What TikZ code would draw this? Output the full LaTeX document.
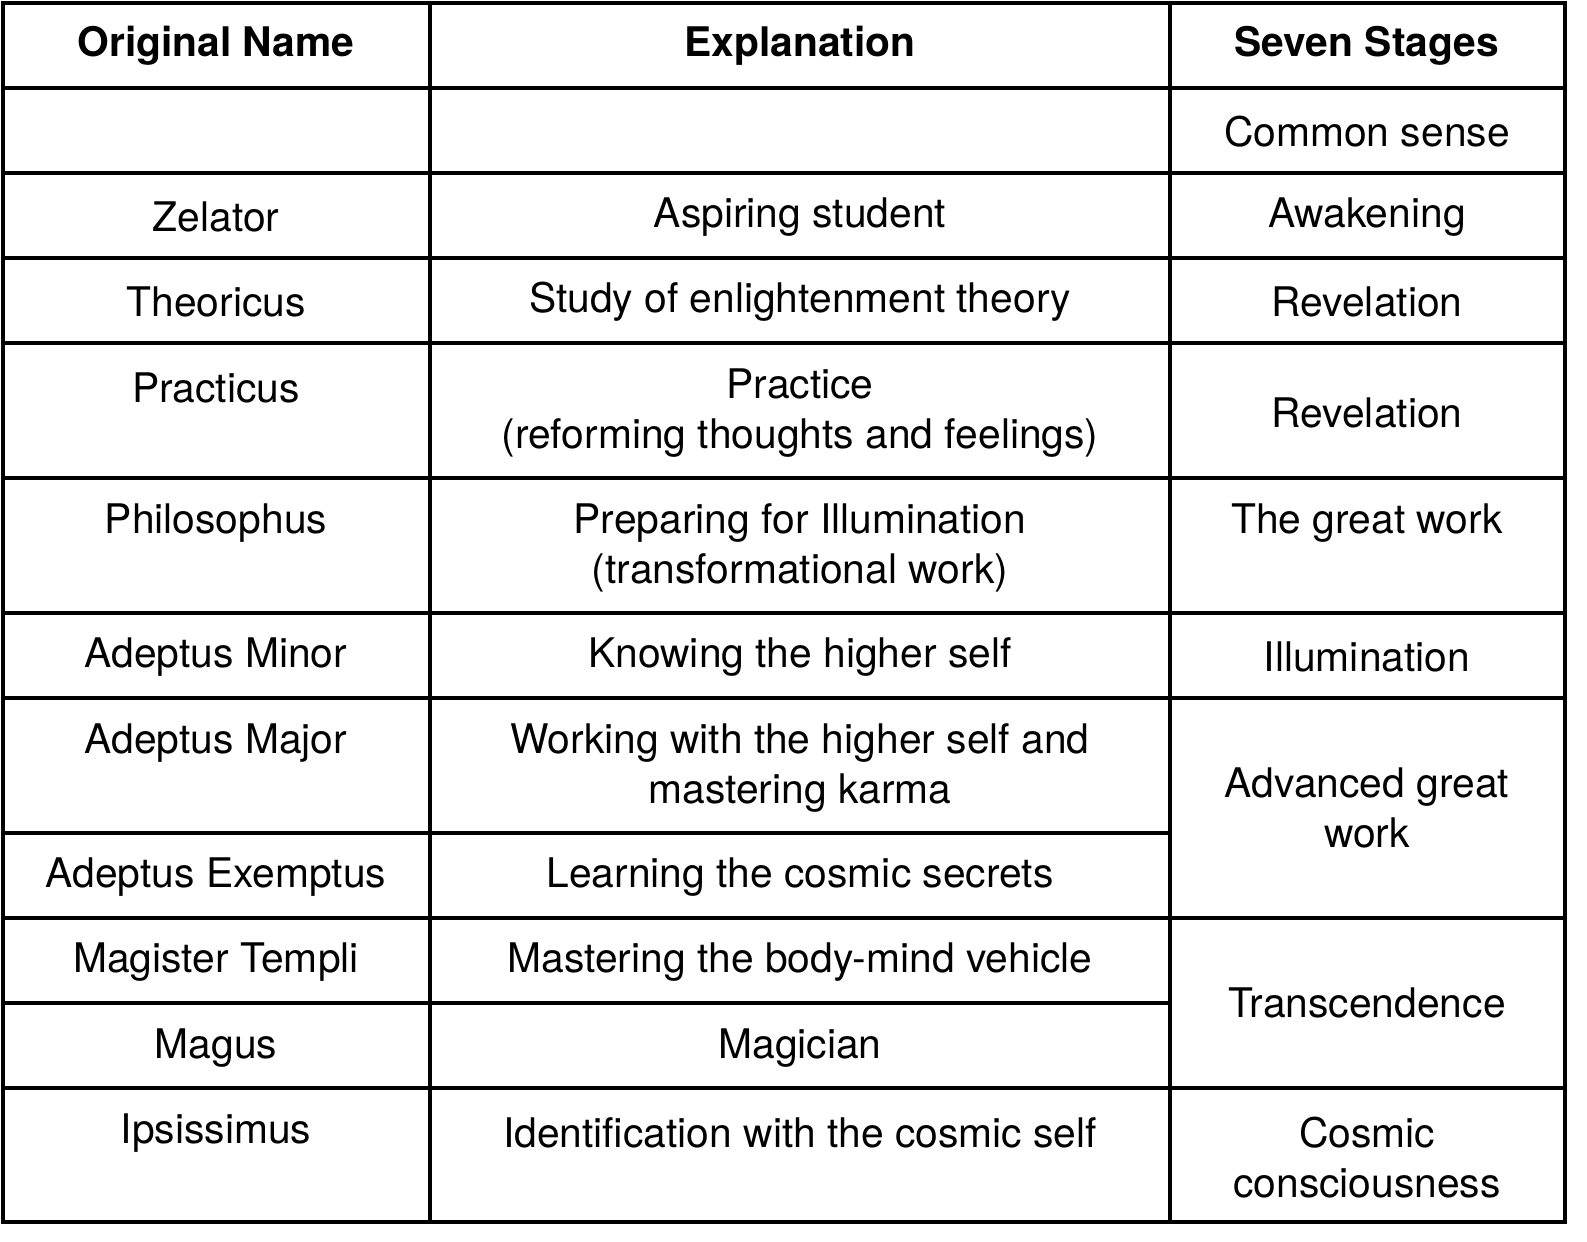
\documentclass[tikz,border=0pt]{standalone}
\usepackage{fontspec}
\setmainfont{TeX Gyre Heros}
\tikzset{
  cell/.style={font=\fontsize{11.6}{14.2}\selectfont, align=center, inner sep=0pt},
  head/.style={cell, font=\fontsize{11.6}{14.2}\selectfont\bfseries},
  grid/.style={line width=0.9pt}
}
\begin{document}
\begin{tikzpicture}[x=0.01cm,y=-0.01cm]
  \useasboundingbox (0,0) rectangle (1587,1241);
  % outer frame and columns
  \draw[grid] (3,3) rectangle (1565,1222);
  \draw[grid] (430,3) -- (430,1222);
  \draw[grid] (1170,3) -- (1170,1222);
  % rows
  \foreach \y in {88,173,258,343,478,613,698,918,1088}
    \draw[grid] (3,\y) -- (1565,\y);
  \draw[grid] (3,833) -- (1170,833);
  \draw[grid] (3,1003) -- (1170,1003);

  % header
  \node[head] (hName) at (216,46) {Original Name};
  \node[head] (hExpl) at (800,46) {Explanation};
  \node[head] (hStage) at (1367,46) {Seven Stages};

  % column 1
  \node[cell] (n1) at (216,217) {Zelator};
  \node[cell] (n2) at (216,302) {Theoricus};
  \node[cell] (n3) at (216,388) {Practicus};
  \node[cell] (n4) at (216,523) {Philosophus};
  \node[cell] (n5) at (216,657) {Adeptus Minor};
  \node[cell] (n6) at (216,743) {Adeptus Major};
  \node[cell] (n7) at (216,877) {Adeptus Exemptus};
  \node[cell] (n8) at (216,962) {Magister Templi};
  \node[cell] (n9) at (216,1048) {Magus};
  \node[cell] (n10) at (216,1133) {Ipsissimus};

  % column 2
  \node[cell] (e1) at (800,217) {Aspiring student};
  \node[cell] (e2) at (800,302) {Study of enlightenment theory};
  \node[cell] (e3) at (800,413) {Practice\\(reforming thoughts and feelings)};
  \node[cell] (e4) at (800,548) {Preparing for Illumination\\(transformational work)};
  \node[cell] (e5) at (800,657) {Knowing the higher self};
  \node[cell] (e6) at (800,768) {Working with the higher self and\\mastering karma};
  \node[cell] (e7) at (800,877) {Learning the cosmic secrets};
  \node[cell] (e8) at (800,962) {Mastering the body-mind vehicle};
  \node[cell] (e9) at (800,1048) {Magician};
  \node[cell] (e10) at (800,1133) {Identification with the cosmic self};

  % column 3
  \node[cell] (s0) at (1367,132) {Common sense};
  \node[cell] (s1) at (1367,217) {Awakening};
  \node[cell] (s2) at (1367,302) {Revelation};
  \node[cell] (s3) at (1367,413) {Revelation};
  \node[cell] (s4) at (1367,523) {The great work};
  \node[cell] (s5) at (1367,657) {Illumination};
  \node[cell] (s6) at (1367,808) {Advanced great\\work};
  \node[cell] (s7) at (1367,1003) {Transcendence};
  \node[cell] (s8) at (1367,1158) {Cosmic\\consciousness};
\end{tikzpicture}
\end{document}
